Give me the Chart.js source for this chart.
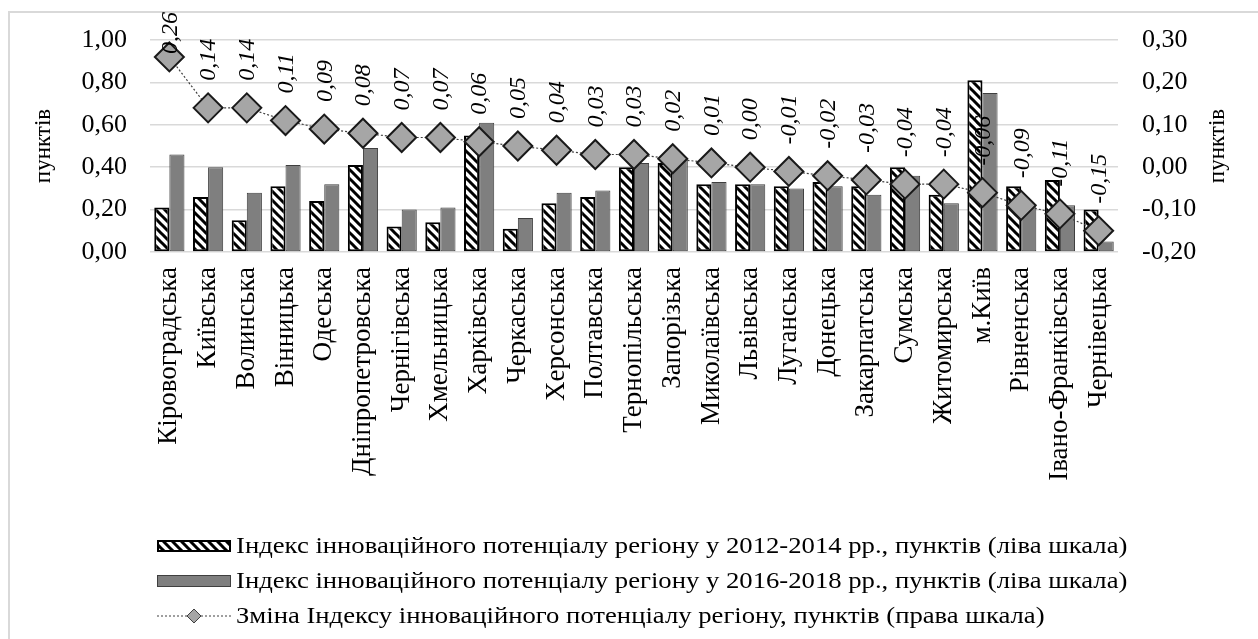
<!DOCTYPE html>
<html>
<head>
<meta charset="utf-8">
<script src="https://cdn.jsdelivr.net/npm/chart.js@4/dist/chart.umd.min.js"></script>
<style>
  html, body { margin: 0; padding: 0; background: #fff; }
  #wrap { width: 1258px; height: 639px; }
</style>
</head>
<body>
<div id="wrap"><canvas id="innoChart" width="1258" height="639"></canvas></div>
<script>
const regions = ['Кіровоградська', 'Київська', 'Волинська', 'Вінницька', 'Одеська', 'Дніпропетровська',
  'Чернігівська', 'Хмельницька', 'Харківська', 'Черкаська', 'Херсонська', 'Полтавська', 'Тернопільська',
  'Запорізька', 'Миколаївська', 'Львівська', 'Луганська', 'Донецька', 'Закарпатська', 'Сумська',
  'Житомирська', 'м.Київ', 'Рівненська', 'Івано-Франківська', 'Чернівецька'];

const index2012 = [0.21, 0.26, 0.15, 0.31, 0.24, 0.41, 0.12, 0.14, 0.55, 0.11, 0.23, 0.26, 0.40,
  0.42, 0.32, 0.32, 0.31, 0.33, 0.31, 0.40, 0.27, 0.81, 0.31, 0.34, 0.20];
const index2016 = [0.46, 0.40, 0.28, 0.41, 0.32, 0.49, 0.20, 0.21, 0.61, 0.16, 0.28, 0.29, 0.42,
  0.44, 0.33, 0.32, 0.30, 0.31, 0.27, 0.36, 0.23, 0.75, 0.22, 0.22, 0.05];
const indexChange = [0.26, 0.14, 0.14, 0.11, 0.09, 0.08, 0.07, 0.07, 0.06, 0.05, 0.04, 0.03, 0.03,
  0.02, 0.01, 0.00, -0.01, -0.02, -0.03, -0.04, -0.04, -0.06, -0.09, -0.11, -0.15];

const seriesNames = [
  'Індекс інноваційного потенціалу регіону у 2012-2014 рр., пунктів (ліва шкала)',
  'Індекс інноваційного потенціалу регіону у 2016-2018 рр., пунктів (ліва шкала)',
  'Зміна Індексу інноваційного потенціалу регіону, пунктів (права шкала)'
];
const axisTitle = 'пунктів';

const SERIF = '"Liberation Serif", "Times New Roman", serif';
const fmt = v => (Math.round(v * 100) / 100).toFixed(2).replace('.', ',');

function makeHatch() {
  const s = 9;
  const c = document.createElement('canvas');
  c.width = s; c.height = s;
  const g = c.getContext('2d');
  g.fillStyle = '#fff';
  g.fillRect(0, 0, s, s);
  g.strokeStyle = '#000';
  g.lineWidth = 3;
  g.beginPath();
  g.moveTo(-3, -3); g.lineTo(s + 3, s + 3);
  g.moveTo(-3, s - 3); g.lineTo(3, s + 3);
  g.moveTo(s - 3, -3); g.lineTo(s + 3, 3);
  g.stroke();
  return g.createPattern(c, 'repeat');
}
const hatch = makeHatch();

// frame + white background
const framePlugin = {
  id: 'frame',
  beforeDraw(chart) {
    const ctx = chart.ctx;
    ctx.save();
    ctx.fillStyle = '#fff';
    ctx.fillRect(0, 0, chart.width, chart.height);
    ctx.strokeStyle = '#d9d9d9';
    ctx.lineWidth = 2;
    ctx.strokeRect(9, 12, chart.width + 20, chart.height + 20);
    ctx.restore();
  }
};

// both axis titles read bottom-to-top
const titlesPlugin = {
  id: 'axisTitles',
  afterDraw(chart) {
    const ctx = chart.ctx;
    const a = chart.chartArea;
    const cy = (a.top + a.bottom) / 2;
    ctx.save();
    ctx.font = '23px ' + SERIF;
    ctx.fillStyle = '#000';
    ctx.textAlign = 'center';
    ctx.textBaseline = 'middle';
    [44, 1218].forEach(x => {
      ctx.save();
      ctx.translate(x, cy);
      ctx.rotate(-Math.PI / 2);
      ctx.fillText(axisTitle, 0, 0);
      ctx.restore();
    });
    ctx.restore();
  }
};

// rotated italic labels above the diamonds
const pointLabels = {
  id: 'pointLabels',
  afterDatasetsDraw(chart) {
    const ctx = chart.ctx;
    const meta = chart.getDatasetMeta(2);
    ctx.save();
    ctx.font = 'italic 24px ' + SERIF;
    ctx.fillStyle = '#000';
    ctx.textAlign = 'left';
    ctx.textBaseline = 'middle';
    meta.data.forEach((pt, i) => {
      const txt = fmt(indexChange[i]);
      const w = ctx.measureText(txt).width;
      let start = pt.y - 27;
      if (start - w < 12) start = 12 + w; // keep inside frame like excel does
      ctx.save();
      ctx.translate(pt.x + 1, start);
      ctx.rotate(-Math.PI / 2);
      ctx.fillText(txt, 0, 0);
      ctx.restore();
    });
    ctx.restore();
  }
};

// legend stacked at bottom-left
const legendPlugin = {
  id: 'stackLegend',
  afterDraw(chart) {
    const ctx = chart.ctx;
    const x0 = 157, boxW = 74, rowY = [546, 581, 616];
    ctx.save();
    ctx.font = '23px ' + SERIF;
    ctx.textBaseline = 'middle';
    ctx.textAlign = 'left';
    chart.data.datasets.forEach((ds, i) => {
      const y = rowY[i];
      if (ds.type === 'line') {
        ctx.save();
        ctx.strokeStyle = ds.borderColor;
        ctx.lineWidth = 1.2;
        ctx.setLineDash([2, 2]);
        ctx.beginPath();
        ctx.moveTo(x0, y); ctx.lineTo(x0 + boxW, y);
        ctx.stroke();
        ctx.setLineDash([]);
        const cx = x0 + boxW / 2, r = 7;
        ctx.beginPath();
        ctx.moveTo(cx - r, y); ctx.lineTo(cx, y - r); ctx.lineTo(cx + r, y); ctx.lineTo(cx, y + r);
        ctx.closePath();
        ctx.fillStyle = ds.pointBackgroundColor;
        ctx.fill();
        ctx.strokeStyle = '#404040';
        ctx.lineWidth = 1;
        ctx.stroke();
        ctx.restore();
      } else {
        ctx.fillStyle = ds.backgroundColor;
        ctx.fillRect(x0, y - 6, boxW, 12);
        ctx.strokeStyle = ds.borderColor;
        ctx.lineWidth = ds.borderWidth;
        ctx.strokeRect(x0 + ds.borderWidth / 2, y - 6 + ds.borderWidth / 2, boxW - ds.borderWidth, 12 - ds.borderWidth);
      }
      ctx.save();
      ctx.translate(x0 + boxW + 5, y + 1);
      ctx.scale(1.16, 1); // source font runs wide
      ctx.fillStyle = '#000';
      ctx.fillText(ds.label, 0, 0);
      ctx.restore();
    });
    ctx.restore();
  }
};

new Chart(document.getElementById('innoChart'), {
  data: {
    labels: regions,
    datasets: [
      {
        type: 'bar',
        label: seriesNames[0],
        data: index2012,
        yAxisID: 'y',
        backgroundColor: hatch,
        borderColor: '#000',
        borderWidth: 2,
        borderSkipped: false,
        categoryPercentage: 0.78,
        barPercentage: 1,
        order: 1
      },
      {
        type: 'bar',
        label: seriesNames[1],
        data: index2016,
        yAxisID: 'y',
        backgroundColor: '#7f7f7f',
        borderColor: '#3f3f3f',
        borderWidth: 1,
        borderSkipped: false,
        categoryPercentage: 0.78,
        barPercentage: 1,
        order: 1
      },
      {
        type: 'line',
        label: seriesNames[2],
        data: indexChange,
        yAxisID: 'y2',
        borderColor: '#404040',
        borderWidth: 1.2,
        borderDash: [2, 2],
        fill: false,
        tension: 0,
        pointStyle: 'rectRot',
        pointRadius: 14.5,
        pointHoverRadius: 14.5,
        pointBackgroundColor: '#a6a6a6',
        pointBorderColor: '#1a1a1a',
        pointBorderWidth: 2,
        order: 0
      }
    ]
  },
  options: {
    responsive: false,
    animation: false,
    events: [],
    layout: { padding: { top: 40, left: 0, right: 0, bottom: 0 } },
    plugins: {
      legend: { display: false },
      tooltip: { enabled: false }
    },
    scales: {
      x: {
        grid: { display: false, drawTicks: false },
        border: { display: false },
        ticks: {
          color: '#000',
          font: { family: SERIF, size: 27 },
          minRotation: 90,
          maxRotation: 90,
          autoSkip: false,
          padding: 15
        },
        afterFit(scale) { scale.height = 639 - 40 - 212; }
      },
      y: {
        position: 'left',
        min: 0,
        max: 1,
        grid: { color: '#d9d9d9', lineWidth: 1.5, drawTicks: false },
        border: { display: false },
        ticks: {
          stepSize: 0.2,
          color: '#000',
          font: { family: SERIF, size: 26 },
          padding: 23,
          callback: v => fmt(v)
        },
        afterFit(scale) { scale.width = 150; }
      },
      y2: {
        position: 'right',
        min: -0.2,
        max: 0.3,
        grid: { display: false, drawTicks: false },
        border: { display: false },
        ticks: {
          stepSize: 0.1,
          color: '#000',
          font: { family: SERIF, size: 26 },
          padding: 24,
          callback: v => fmt(v)
        },
        afterFit(scale) { scale.width = 140; }
      }
    }
  },
  plugins: [framePlugin, pointLabels, titlesPlugin, legendPlugin]
});
</script>
</body>
</html>
